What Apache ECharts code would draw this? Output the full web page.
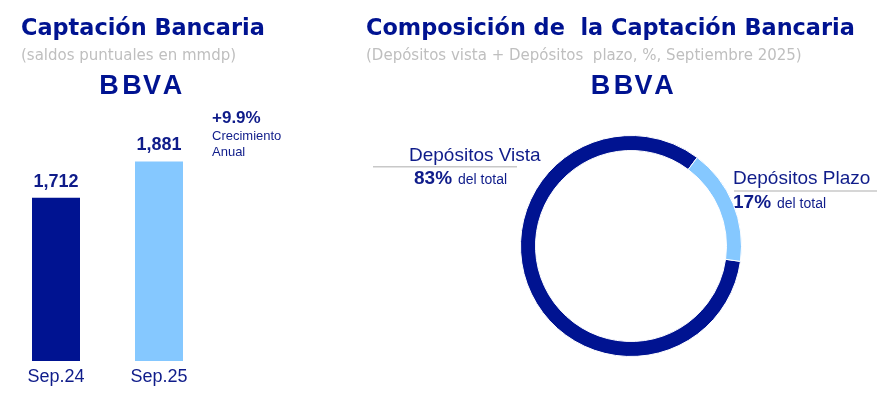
<!DOCTYPE html>
<html><head><meta charset="utf-8">
<script src="https://cdn.jsdelivr.net/npm/echarts@6/dist/echarts.min.js"></script>
<style>html,body{margin:0;padding:0;background:#fff}#c{width:894px;height:396px}</style>
</head><body><div id="c"></div>
<script>
const barCategories = ['Sep.24', 'Sep.25'];
const barValues = [1712, 1881];
const growthLabel = '+9.9%';
const growthText = ['Crecimiento', 'Anual'];
const pieNames = ['Depósitos Vista', 'Depósitos Plazo'];
const pieValues = [83, 17];
const titles = ['Captación Bancaria', 'Composición de  la Captación Bancaria'];
const subtitles = ['(saldos puntuales en mmdp)', '(Depósitos vista + Depósitos  plazo, %, Septiembre 2025)'];
const logoText = 'BBVA';

const NAVY = '#001391', TEXTNAVY = '#0F1C8A', LIGHT = '#85C8FF', GRAY = '#BFBFBF', LINEGRAY = '#C8C8C8';
const barColors = [NAVY, LIGHT];
const pieColors = [NAVY, LIGHT];
const SANS = '"Liberation Sans", Arial, sans-serif';
const DJ = '"DejaVu Sans", sans-serif';

function txt(x, y, text, size, color, weight, family, align) {
  return { type: 'text', x: x, y: y, silent: true,
    style: { text: text, fill: color, fontSize: size, fontWeight: weight || 'normal',
      fontFamily: family || SANS, align: align || 'left', verticalAlign: 'middle' } };
}
// logo: letters spaced individually
const logoOffsets = [9, 32, 52, 72.5];
function logo(x0, y) {
  return logoText.split('').map((ch, i) => txt(x0 + logoOffsets[i], y, ch, 27, NAVY, 'bold', SANS, 'center'));
}

const chart = echarts.init(document.getElementById('c'), null, { renderer: 'canvas' });
const pieFmt = v => v + '%';

chart.setOption({
  backgroundColor: '#fff',
  animation: false,
  grid: { left: 4.5, width: 206, top: 136, bottom: 35, containLabel: false },
  xAxis: { type: 'category', data: barCategories,
    axisLine: { show: false }, axisTick: { show: false },
    axisLabel: { color: TEXTNAVY, fontSize: 18, fontFamily: SANS, margin: 7 } },
  yAxis: { type: 'value', min: 950, max: 2000, show: false, splitLine: { show: false } },
  series: [
    { type: 'bar', barWidth: 48,
      data: barValues.map((v, i) => ({ value: v, itemStyle: { color: barColors[i] } })),
      label: { show: true, position: 'top', distance: 7, color: TEXTNAVY, fontSize: 18,
        fontWeight: 'bold', fontFamily: SANS,
        formatter: p => p.value.toLocaleString('en-US') } },
    { type: 'pie', center: [631, 246], radius: [95.5, 110.5], startAngle: 352,
      clockwise: true, silent: true,
      label: { show: false }, labelLine: { show: false },
      itemStyle: { borderColor: '#fff', borderWidth: 1 },
      data: pieValues.map((v, i) => ({ value: v, name: pieNames[i], itemStyle: { color: pieColors[i] } })) }
  ],
  graphic: [
    txt(21, 29, titles[0], 22.4, NAVY, 'bold', DJ),
    txt(21, 56, subtitles[0], 15, GRAY, 'normal', DJ),
    ...logo(100, 87),
    txt(366, 29, titles[1], 22.4, NAVY, 'bold', DJ),
    txt(366, 56, subtitles[1], 15, GRAY, 'normal', DJ),
    ...logo(591.5, 87),
    txt(212, 118, growthLabel, 17, TEXTNAVY, 'bold'),
    txt(212, 136, growthText[0], 13, TEXTNAVY),
    txt(212, 152, growthText[1], 13, TEXTNAVY),
    txt(409, 156, pieNames[0], 19, TEXTNAVY),
    { type: 'line', silent: true, shape: { x1: 373, y1: 166.7, x2: 517, y2: 166.7 }, style: { stroke: LINEGRAY, lineWidth: 1.5 } },
    txt(414, 179, pieFmt(pieValues[0]), 19, TEXTNAVY, 'bold'),
    txt(458, 180.5, 'del total', 14, TEXTNAVY),
    txt(733, 179, pieNames[1], 19, TEXTNAVY),
    { type: 'line', silent: true, shape: { x1: 734, y1: 191, x2: 877, y2: 191 }, style: { stroke: LINEGRAY, lineWidth: 1.5 } },
    txt(733, 202.5, pieFmt(pieValues[1]), 19, TEXTNAVY, 'bold'),
    txt(777, 204, 'del total', 14, TEXTNAVY)
  ]
});
</script></body></html>
